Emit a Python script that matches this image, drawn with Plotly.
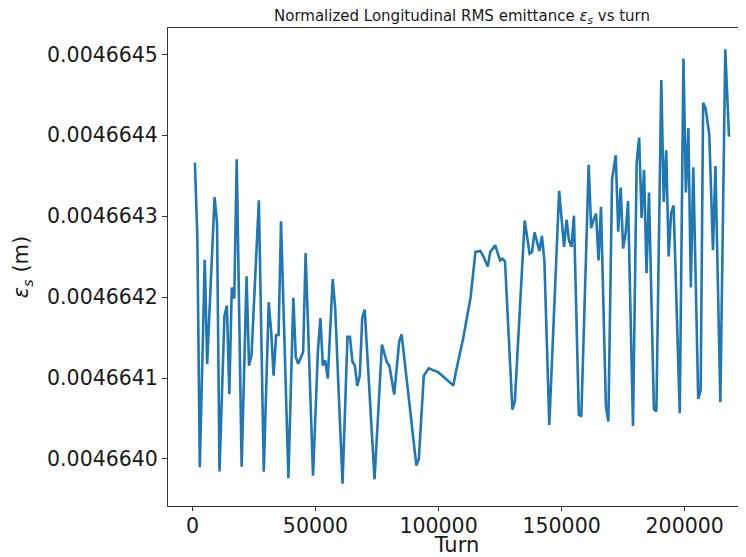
import plotly.graph_objects as go

turns = [1000, 2000, 3000, 5000, 6000, 9000, 10000, 11000, 13000, 14000,
         15000, 16000, 17000, 18000, 20000, 22000, 23000, 24000, 27000, 29000,
         31000, 32000, 33000, 34000, 35000, 36000, 39000, 41000, 42000, 43000,
         45000, 46000, 49000, 51000, 52000, 53000, 54000, 55000, 57000, 58000,
         61000, 63000, 64000, 65000, 66000, 67000, 68000, 69000, 70000, 74000,
         77000, 79000, 80000, 82000, 84000, 85000, 91000, 92000, 94000, 96000,
         100000, 102500, 106000, 107000, 110000, 113000, 115000, 117000, 118000, 120000,
         121000, 123000, 124000, 125000, 126000, 127000, 130000, 131000, 135000, 137000,
         138000, 139000, 141000, 142000, 143000, 145000, 149000, 150000, 151000, 152000,
         153000, 154000, 155000, 157000, 158000, 161000, 162000, 163000, 164000, 165000,
         166000, 168000, 169000, 170500, 172000, 173000, 174000, 175000, 176000, 177000,
         179000, 180500, 181500, 182500, 183500, 184500, 185500, 187500, 188500, 190500,
         191500, 192500, 193500, 194500, 195500, 198000, 199500, 200500, 201500, 202500,
         203500, 205500, 206500, 207500, 208500, 210000, 211500, 212500, 214500, 216500,
         218000]

emittance = [0.0046643660, 0.0046642751, 0.0046639896, 0.0046642462, 0.0046641175, 0.0046643235, 0.0046642914, 0.0046639845, 0.0046641761, 0.0046641896,
             0.0046640801, 0.0046642118, 0.0046641984, 0.0046643703, 0.0046639902, 0.0046642257, 0.0046641153, 0.0046641279, 0.0046643197, 0.0046639842,
             0.0046641937, 0.0046641572, 0.0046641028, 0.0046641531, 0.0046641531, 0.0046642936, 0.0046639761, 0.0046641992, 0.0046641258, 0.0046641175,
             0.0046641321, 0.0046642546, 0.0046639791, 0.0046641342, 0.0046641741, 0.0046641153, 0.0046641216, 0.0046640994, 0.0046642223, 0.0046641867,
             0.0046639694, 0.0046641509, 0.0046641509, 0.0046641204, 0.0046641153, 0.0046640902, 0.0046641028, 0.0046641741, 0.0046641845, 0.0046639748,
             0.0046641414, 0.0046641195, 0.0046641153, 0.0046640797, 0.0046641447, 0.0046641540, 0.0046639917, 0.0046640000, 0.0046641028, 0.0046641119,
             0.0046641069, 0.0046641003, 0.0046640908, 0.0046641069, 0.0046641489, 0.0046641992, 0.0046642558, 0.0046642569, 0.0046642516, 0.0046642377,
             0.0046642558, 0.0046642642, 0.0046642537, 0.0046642453, 0.0046642474, 0.0046642443, 0.0046640609, 0.0046640713, 0.0046642946, 0.0046642537,
             0.0046642558, 0.0046642799, 0.0046642569, 0.0046642757, 0.0046642453, 0.0046640420, 0.0046643313, 0.0046642956, 0.0046642621, 0.0046642956,
             0.0046642704, 0.0046642621, 0.0046643006, 0.0046640546, 0.0046640525, 0.0046643635, 0.0046642852, 0.0046642956, 0.0046643031, 0.0046642453,
             0.0046643116, 0.0046640650, 0.0046640462, 0.0046643459, 0.0046643753, 0.0046642810, 0.0046643355, 0.0046642600, 0.0046642789, 0.0046643187,
             0.0046640408, 0.0046643669, 0.0046643971, 0.0046642977, 0.0046643572, 0.0046642294, 0.0046643292, 0.0046640616, 0.0046640587, 0.0046644684,
             0.0046643175, 0.0046643816, 0.0046642503, 0.0046643040, 0.0046643132, 0.0046640566, 0.0046644948, 0.0046643292, 0.0046644088, 0.0046642118,
             0.0046643606, 0.0046640742, 0.0046640852, 0.0046644403, 0.0046644332, 0.0046644005, 0.0046642579, 0.0046643619, 0.0046640701, 0.0046645062,
             0.0046643984]

x_tick_vals = [0, 50000, 100000, 150000, 200000]
x_tick_text = ["0", "50000", "100000", "150000", "200000"]
y_tick_vals = [0.0046640, 0.0046641, 0.0046642, 0.0046643, 0.0046644, 0.0046645]
y_tick_text = ["0.0046640", "0.0046641", "0.0046642", "0.0046643", "0.0046644", "0.0046645"]

FONT = "DejaVu Sans"
AXCOL = "#333333"
TXT = "#1a1a1a"

fig = go.Figure()
fig.add_trace(go.Scatter(x=turns, y=emittance, mode="lines",
                         line=dict(color="#1f77b4", width=2.6), showlegend=False))

# page body has an 8px margin, so the figure is sized to fill the remaining window
fig.update_layout(
    width=738, height=549,
    margin=dict(l=160, r=0, t=20, b=51),
    paper_bgcolor="white", plot_bgcolor="white",
    font=dict(family=FONT, color=TXT),
    xaxis=dict(range=[-9919, 224916], tickvals=x_tick_vals, ticktext=x_tick_text,
               automargin=False, ticklabelstandoff=-3,
               showgrid=False, zeroline=False, showline=True, mirror=True,
               linecolor=AXCOL, linewidth=1, ticks="outside", ticklen=4,
               tickcolor=AXCOL, tickfont=dict(size=20.5, family=FONT, color=TXT),
               title=dict(text="Turn", font=dict(size=21, family=FONT, color=TXT),
                          standoff=3)),
    yaxis=dict(range=[0.0046639418, 0.0046645326], tickvals=y_tick_vals, ticktext=y_tick_text,
               automargin=False,
               showgrid=False, zeroline=False, showline=True, mirror=False,
               linecolor=AXCOL, linewidth=1, ticks="outside", ticklen=5,
               tickcolor=AXCOL, tickfont=dict(size=20.5, family=FONT, color=TXT),
               title=dict(text="<i>ε</i><sub><i>s</i></sub> (m)",
                          font=dict(size=21, family=FONT, color=TXT), standoff=12)),
)

fig.add_annotation(text="Normalized Longitudinal RMS emittance <i>ε</i><sub><i>s</i></sub> vs turn",
                   xref="x", yref="paper", x=109500, y=1, xanchor="center", yanchor="bottom",
                   yshift=0, showarrow=False, font=dict(size=15, family=FONT, color=TXT))

fig.write_html("out.html")
